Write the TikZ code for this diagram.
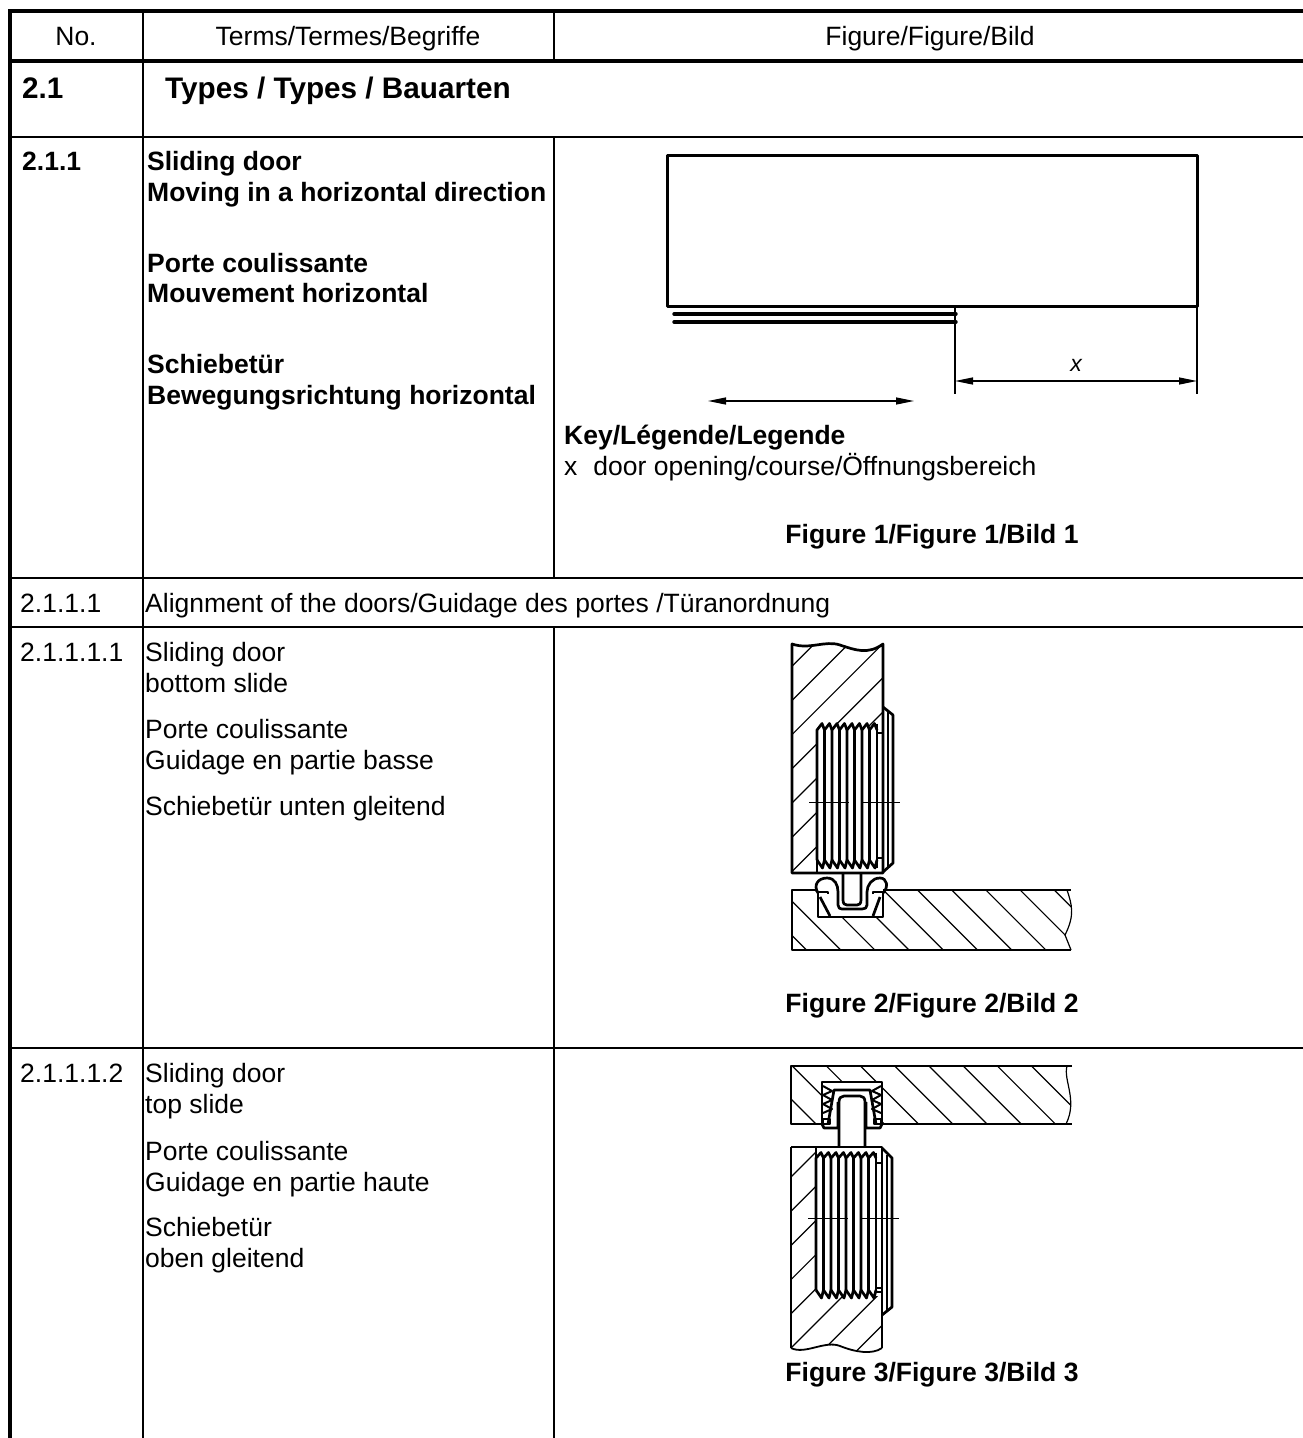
\documentclass[tikz,border=0pt]{standalone}
\usepackage{fontspec}
\setmainfont{Liberation Sans}
\usetikzlibrary{arrows.meta}
\tikzset{thinrule/.style = {line width=1.1pt}}
\tikzset{thickrule/.style = {line width=4pt}}
\tikzset{part/.style = {line width=2.7pt,line join=round}}
\tikzset{hatch/.style = {line width=1.2pt}}
\tikzset{dimline/.style = {line width=1.3pt,{Triangle[length=18pt,width=7pt]}-{Triangle[length=18pt,width=7pt]}}}
\tikzset{axis/.style = {line width=1pt}}
\tikzset{txt/.style = {anchor=base west,inner sep=0pt,font=\fontsize{26.5}{30}\selectfont}}
\tikzset{boldtxt/.style = {txt,font=\fontsize{26.5}{30}\selectfont\bfseries}}
\tikzset{headtxt/.style = {txt,font=\fontsize{29.7}{33}\selectfont\bfseries}}
\begin{document}
\begin{tikzpicture}[x=1pt,y=-1pt]
\useasboundingbox (0,0) rectangle (1303,1438);
% table rules
\draw[thickrule] (1303,11) -- (10,11) -- (10,1438);
\draw[thickrule] (10,61) -- (1303,61);
\draw[thinrule] (10,137) -- (1303,137);
\draw[thinrule] (10,578) -- (1303,578);
\draw[thinrule] (10,627) -- (1303,627);
\draw[thinrule] (10,1048) -- (1303,1048);
\draw[thinrule] (143,11) -- (143,1438);
\draw[thinrule] (554,11) -- (554,61);
\draw[thinrule] (554,137) -- (554,578);
\draw[thinrule] (554,627) -- (554,1438);
% header row
\node[txt,anchor=base] (no) at (76,45) {No.};
\node[txt,anchor=base] (terms) at (348,45) {Terms/Termes/Begriffe};
\node[txt,anchor=base] (figure) at (930,45) {Figure/Figure/Bild};
\node[headtxt] (n21) at (22,98) {2.1};
\node[headtxt] (types) at (165,98) {Types / Types / Bauarten};
% row 2.1.1
\node[boldtxt] (n211) at (22,170) {2.1.1};
\node[boldtxt] (t1a) at (147,170) {Sliding door};
\node[boldtxt] (t1b) at (147,201) {Moving in a horizontal direction};
\node[boldtxt] (t1c) at (147,272) {Porte coulissante};
\node[boldtxt] (t1d) at (147,302) {Mouvement horizontal};
\node[boldtxt] (t1e) at (147,373) {Schiebetür};
\node[boldtxt] (t1f) at (147,404) {Bewegungsrichtung horizontal};
\node[boldtxt] (key) at (564,444) {Key/Légende/Legende};
\node[txt] (keyx) at (564,475) {x\hspace{16pt}door opening/course/Öffnungsbereich};
\node[boldtxt,anchor=base] (fig1) at (932,543) {Figure 1/Figure 1/Bild 1};
% row 2.1.1.1
\node[txt] (n2111) at (20,612) {2.1.1.1};
\node[txt] (align) at (145,612) {Alignment of the doors/Guidage des portes /Türanordnung};
% row 2.1.1.1.1
\node[txt] (n21111) at (20,661) {2.1.1.1.1};
\node[txt] (t2a) at (145,661) {Sliding door};
\node[txt] (t2b) at (145,692) {bottom slide};
\node[txt] (t2c) at (145,738) {Porte coulissante};
\node[txt] (t2d) at (145,769) {Guidage en partie basse};
\node[txt] (t2e) at (145,815) {Schiebetür unten gleitend};
\node[boldtxt,anchor=base] (fig2) at (932,1012) {Figure 2/Figure 2/Bild 2};
% row 2.1.1.1.2
\node[txt] (n21112) at (20,1082) {2.1.1.1.2};
\node[txt] (t3a) at (145,1082) {Sliding door};
\node[txt] (t3b) at (145,1113) {top slide};
\node[txt] (t3c) at (145,1160) {Porte coulissante};
\node[txt] (t3d) at (145,1191) {Guidage en partie haute};
\node[txt] (t3e) at (145,1236) {Schiebetür};
\node[txt] (t3f) at (145,1267) {oben gleitend};
\node[boldtxt,anchor=base] (fig3) at (932,1381) {Figure 3/Figure 3/Bild 3};
% figure 1
\draw[part,line width=3pt] (667,155) rectangle (1197,306);
\draw[line width=3.4pt,line cap=round] (674,314) -- (956,314);
\draw[line width=3.4pt,line cap=round] (674,322) -- (956,322);
\draw[thinrule] (955,306) -- (955,394);
\draw[thinrule] (1197,306) -- (1197,394);
\coordinate (dimleft) at (955,381);
\coordinate (dimright) at (1197,381);
\coordinate (moveleft) at (708,401);
\coordinate (moveright) at (914,401);
\draw[dimline] (dimleft) -- (dimright);
\draw[dimline] (moveleft) -- (moveright);
\node[txt,anchor=base,font=\fontsize{23}{25}\selectfont\itshape] (dimx) at (1076,371) {x};
% figure 2, door
\begin{scope}
\clip (792,645) .. controls (810,650) and (825,640) .. (840,645) .. controls (855,650) and (868,655) .. (883,645) -- (883,873) -- (792,873) -- cycle;
\foreach \s in {0,...,9} {\draw[hatch] ({1424+34.2*\s-640},640) -- +(-300,300);}
\end{scope}
\fill[white] (817,727) rectangle (883,873);
\draw[part] (792,644) .. controls (810,650) and (825,640) .. (840,645) .. controls (855,650) and (868,655) .. (883,644) -- (883,873) -- (792,873) -- cycle;
\draw[part] (817,873) -- (817,730);
\foreach \i in {0,...,7} {
  \draw[part] ({817+7.5*\i},860) -- ({817+7.5*\i},730) -- ({822+7.5*\i},723.5) -- ({824.5+7.5*\i},730);
  \draw[part] ({817+7.5*\i},860) -- ({822.5+7.5*\i},868) -- ({824.5+7.5*\i},860);
}
\draw[part] (877,723.5) -- (877,868);
\draw[part,line width=2pt] (877,733) -- (883,733);
\draw[part,line width=2pt] (877,858) -- (883,858);
\draw[part] (883,707) -- (893,715) -- (893,863) -- (883,872);
\draw[part,line width=2pt] (888,710) -- (888,868);
\draw[axis] (809,802) -- (849,802);
\draw[axis] (862,802) -- (900,802);
% figure 2, rail
\begin{scope}
\clip (792,890) -- (1067,890) .. controls (1072,905) and (1075,915) .. (1065,935) -- (1071,950) -- (792,950) -- cycle;
\foreach \s in {0,...,10} {\draw[hatch] ({-143.5+34.2*\s+880},880) -- +(80,80);}
\end{scope}
\fill[white] (818,888) rectangle (883,917);
\draw[part] (818,890) -- (792,890) -- (792,950) -- (1071,950);
\draw[part] (883,890) -- (1071,890);
\draw[hatch] (1067,890) .. controls (1072,905) and (1075,915) .. (1065,935) -- (1071,950);
\draw[part] (818,893) -- (818,917) -- (883,917) -- (883,893);
\draw[part] (818,893) .. controls (813,885) and (818,878) .. (827,878) .. controls (835,878) and (838,885) .. (838,892) -- (838,905) .. controls (838,908) and (840,909) .. (842,909) -- (862,909) .. controls (865,909) and (867,908) .. (867,905) -- (867,892) .. controls (867,885) and (872,878) .. (880,878) .. controls (887,878) and (889,887) .. (883,893);
\draw[part] (843,874) -- (843,900) .. controls (843,904) and (845,905) .. (847,905) -- (857,905) .. controls (859,905) and (861,904) .. (861,900) -- (861,874);
\draw[part] (817,892) -- (828,892) -- (828,894);
\draw[part] (873,894) -- (873,892) -- (884,892);
\draw[part] (820,897) -- (830,916);
\draw[part] (880,897) -- (873,916);
% figure 3, rail
\begin{scope}
\clip (791,1066) -- (1067,1066) .. controls (1063,1080) and (1078,1100) .. (1066,1124) -- (791,1124) -- cycle;
\foreach \s in {0,...,11} {\draw[hatch] ({-308+34.2*\s+1060},1060) -- +(80,80);}
\end{scope}
\fill[white] (822,1082) rectangle (882,1126);
\draw[part] (1072,1066) -- (791,1066) -- (791,1124) -- (822,1124);
\draw[part] (882,1124) -- (1072,1124);
\draw[hatch] (1067,1066) .. controls (1063,1080) and (1078,1100) .. (1066,1124);
\draw[part] (822,1124) -- (822,1082) -- (882,1082) -- (882,1124);
\draw[part] (828,1124) -- (834,1090) -- (870,1090) -- (876,1124);
\foreach \i in {0,1,2} {
  \draw[part,line width=2pt] (823,{1086+9*\i}) -- (832,{1091+9*\i}) -- (823,{1095+9*\i});
  \draw[part,line width=2pt] (881,{1086+9*\i}) -- (872,{1091+9*\i}) -- (881,{1095+9*\i});
}
\draw[part,line width=2pt] (823,1119) rectangle (830,1124);
\draw[part,line width=2pt] (874,1119) rectangle (881,1124);
\draw[part] (822,1124) -- (824,1128) -- (838,1128) -- (838,1102);
\draw[part] (882,1124) -- (880,1128) -- (866,1128) -- (866,1102);
\draw[part] (839,1147) -- (839,1102) .. controls (839,1098) and (841,1096) .. (844,1096) -- (860,1096) .. controls (863,1096) and (865,1098) .. (865,1102) -- (865,1147);
% figure 3, door
\begin{scope}
\clip (791,1147) -- (882,1147) -- (882,1348) .. controls (872,1355) and (855,1352) .. (840,1346) .. controls (825,1340) and (805,1355) .. (791,1348) -- cycle;
\foreach \s in {0,...,8} {\draw[hatch] ({1968+34.2*\s-1100},1100) -- +(-300,300);}
\end{scope}
\fill[white] (816,1147) rectangle (882,1296);
\draw[part] (791,1147) -- (882,1147) -- (882,1348);
\draw[part] (791,1147) -- (791,1348);
\draw[hatch,line width=1.8pt] (882,1348) .. controls (872,1355) and (855,1352) .. (840,1346) .. controls (825,1340) and (805,1355) .. (791,1348);
\draw[part] (816,1147) -- (816,1290);
\foreach \i in {0,...,7} {
  \draw[part] ({816+7.5*\i},1290) -- ({816+7.5*\i},1158) -- ({821+7.5*\i},1152.5) -- ({823.5+7.5*\i},1158);
  \draw[part] ({816+7.5*\i},1290) -- ({821.5+7.5*\i},1298) -- ({823.5+7.5*\i},1290);
}
\draw[part] (876,1152.5) -- (876,1292) -- (882,1292);
\draw[part,line width=2pt] (876,1163) -- (882,1163);
\draw[part,line width=2pt] (876,1288) -- (882,1288);
\draw[part] (882,1148) -- (892,1158) -- (892,1307) -- (882,1315);
\draw[part,line width=2pt] (887,1155) -- (887,1310);
\draw[axis] (808,1218) -- (848,1218);
\draw[axis] (862,1218) -- (899,1218);
\end{tikzpicture}
\end{document}
